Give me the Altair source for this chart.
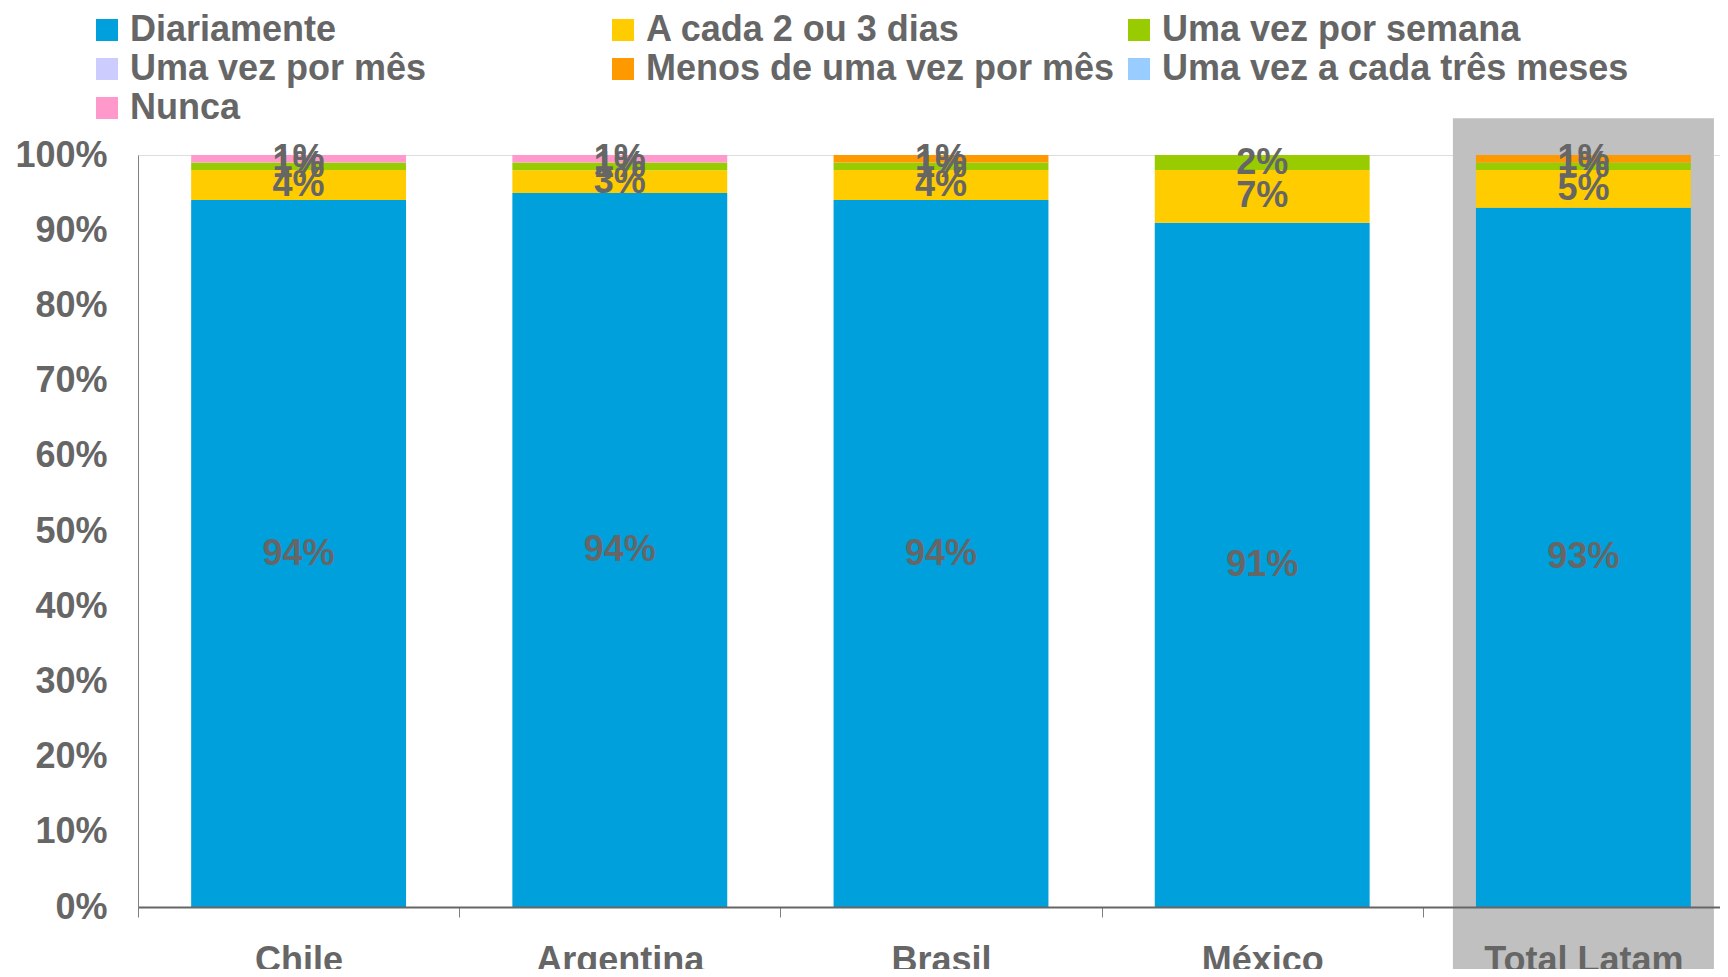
import altair as alt
import pandas as pd

countries = ["Chile", "Argentina", "Brasil", "México", "Total Latam"]
categories = [
    "Diariamente",
    "A cada 2 ou 3 dias",
    "Uma vez por semana",
    "Uma vez por mês",
    "Menos de uma vez por mês",
    "Uma vez a cada três meses",
    "Nunca",
]
colors = ["#00A0DC", "#FFCC00", "#99CC00", "#CCCCFF", "#FF9900", "#99CCFF", "#FF99CC"]

diariamente = [94, 94, 94, 91, 93]
cada_2_3_dias = [4, 3, 4, 7, 5]
uma_vez_semana = [1, 1, 1, 2, 1]
uma_vez_mes = [0, 0, 0, 0, 0]
menos_uma_vez_mes = [0, 0, 1, 0, 1]
tres_meses = [0, 0, 0, 0, 0]
nunca = [1, 1, 0, 0, 0]

series = [diariamente, cada_2_3_dias, uma_vez_semana, uma_vez_mes,
          menos_uma_vez_mes, tres_meses, nunca]

rows = []
for ci, (cat, vals) in enumerate(zip(categories, series)):
    for country, v in zip(countries, vals):
        if v > 0:
            rows.append({"country": country, "cat": cat, "idx": ci, "value": v})
df = pd.DataFrame(rows)
hl_df = pd.DataFrame({"country": ["Total Latam"]})

FONT = "Liberation Sans"
TXT = "#666666"
STEP = 1606 / 5

xscale = alt.Scale(domain=countries, range=[0, 1606], paddingInner=0.331, paddingOuter=0.1655)
yscale = alt.Scale(domain=[0, 1], nice=False)

xaxis = alt.Axis(
    title=None, labelAngle=0, tickOffset=-STEP / 2, labelOffset=STEP / 2,
    tickSize=10, tickColor="#808080",
    tickWidth=1, domainColor="#666666", domainWidth=2, labelFont=FONT,
    labelFontSize=36, labelFontWeight="bold", labelColor=TXT, labelPadding=26,
    zindex=1, labelLimit=400,
)
yaxis = alt.Axis(
    title=None, values=[i / 10 for i in range(11)], format=".0%", ticks=False,
    labelPadding=31, domainColor="#808080", domainWidth=1, grid=False,
    labelFont=FONT, labelFontSize=36, labelFontWeight="bold", labelColor=TXT, zindex=1,
)

highlight = alt.Chart(hl_df).mark_bar(size=261, color="#C0C0C0").encode(
    x=alt.X("country:N", scale=xscale, axis=xaxis),
    y=alt.datum(1.049, scale=yscale, axis=yaxis),
    y2=alt.datum(-0.2),
)

bars = alt.Chart(df).mark_bar().encode(
    x=alt.X("country:N", scale=xscale, axis=xaxis),
    y=alt.Y("value:Q", stack="normalize", scale=yscale, axis=yaxis),
    color=alt.Color(
        "cat:N",
        scale=alt.Scale(domain=categories, range=colors),
        legend=alt.Legend(
            orient="none", legendX=-49, legendY=-143, columns=3, direction="horizontal",
            gridAlign="all", title=None, symbolType="square", symbolSize=484,
            symbolStrokeWidth=0, labelFont=FONT, labelFontSize=36, labelFontWeight="bold",
            labelColor=TXT, labelLimit=700, columnPadding=6, rowPadding=3,
            labelOffset=5, padding=0,
        ),
    ),
    order=alt.Order("idx:Q", sort="ascending"),
)

labels = alt.Chart(df).transform_window(
    cum="sum(value)", groupby=["country"], sort=[alt.SortField("idx")], frame=[None, 0]
).transform_joinaggregate(
    total="sum(value)", groupby=["country"]
).transform_calculate(
    mid="(datum.cum - datum.value/2)/datum.total", label="datum.value + '%'"
).mark_text(
    font=FONT, fontSize=36, fontWeight="bold", color=TXT, baseline="middle", align="center"
).encode(
    x=alt.X("country:N", scale=xscale, axis=xaxis),
    y=alt.Y("mid:Q", scale=yscale, axis=yaxis),
    text="label:N",
)

chart = alt.layer(highlight, bars, labels).properties(
    width=1582, height=752,
    autosize=alt.AutoSizeParams(type="none"),
    padding={"left": 130, "top": 147, "right": 0, "bottom": 62},
).configure_view(stroke="transparent", strokeWidth=0).configure(background="white")

chart.save("out.html", embed_options={"renderer": "svg", "actions": False})
